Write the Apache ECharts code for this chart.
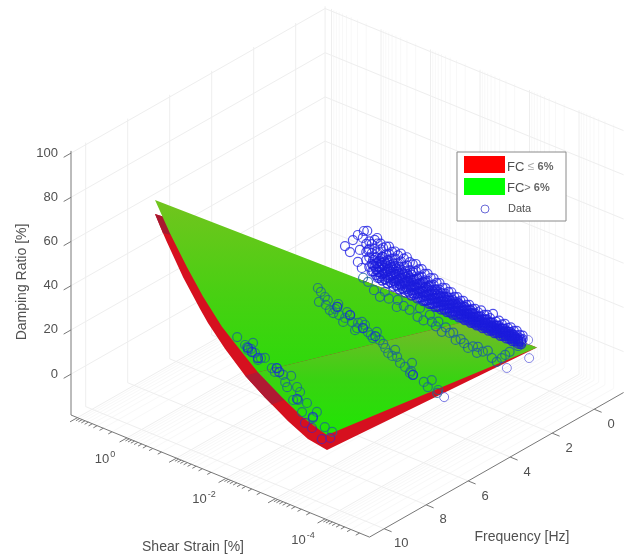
<!DOCTYPE html>
<html>
<head>
<meta charset="utf-8">
<style>html,body{margin:0;padding:0;background:#fff}#chart{width:629px;height:557px}</style>
<script src="https://cdn.jsdelivr.net/npm/echarts@6/dist/echarts.min.js"></script>
</head>
<body>
<div id="chart"></div>
<script>
// tick values
const freqTicks = [0, 2, 4, 6, 8, 10];
const dampTicks = [0, 20, 40, 60, 80, 100];
const strainDecades = [1, 0, -1, -2, -3, -4];
const strainLabelled = [0, -2, -4];

// surfaces: log10(strain), damping at 10 Hz and at 0 Hz
const greenStrain = [-0.27, -0.57, -0.92, -1.24, -1.62, -2.03, -2.35, -2.84, -3.24, -3.64, -3.745];
const greenAt10 = [87.8, 75.7, 63.2, 53, 43, 35, 29, 22, 17, 13.9, 13.3];
const greenAt0 = [-3, -2.8, -2.7, -2.5, -2.3, -2.1, -1.9, -1.6, -1.4, -1.2, -1.1];
const redStrain = [-0.27, -0.43, -0.51, -0.84, -1.18, -1.34, -1.68, -2.09, -2.49, -2.63, -2.96, -3.36, -3.745];
const redAt10 = [81.5, 74.4, 71, 58, 46.8, 42, 33.5, 25, 18.8, 16.9, 12.4, 8, 6.5];
const redAt0 = [-3, -2.9, -2.9, -2.7, -2.5, -2.4, -2.3, -2, -1.8, -1.7, -1.5, -1.3, -1.1];

// measurements as [log10(strain), damping]
const data10Hz = [[-1.93,41],[-2.09,38.9],[-2.13,38.3],[-2.15,37.2],[-2.21,38.2],[-2.25,41.3],[-2.29,37.1],[-2.35,34.5],[-2.41,35.9],[-2.49,36.7],[-2.63,33.4],[-2.73,34.3],[-2.69,32.2],[-2.86,32.4],[-3.02,33.4],[-2.94,27.6],[-2.9,29.5],[-3.14,29.5],[-3.2,27.8],[-3.06,22.9],[-3.16,23.8],[-3.34,24.1],[-3.24,19.1],[-3.54,21.9],[-3.46,18.4],[-3.7,16.5],[-3.85,15.7]];
const data10HzOnRed = [[-3.3,14.7],[-3.44,13.7],[-3.81,12.6],[-3.64,10.5]];
const data10HzDense = [[-2.15,38.1],[-2.23,37],[-2.35,35.4],[-2.73,34.3],[-2.78,33],[-3.14,24.1],[-3.46,18.9]];
const data5Hz = [[-1.44,31.7],[-1.46,25.6],[-1.5,30.5],[-1.58,28.9],[-1.6,25.5],[-1.64,28.1],[-1.68,23.9],[-1.75,23.2],[-1.79,25.4],[-1.83,26.7],[-1.85,28.2],[-1.87,23.4],[-1.95,21],[-1.99,23.2],[-2.03,26.2],[-2.09,25.4],[-2.13,22.6],[-2.19,19.5],[-2.23,20.8],[-2.25,23.3],[-2.33,24.5],[-2.35,21.9],[-2.39,23.7],[-2.45,21],[-2.51,20.2],[-2.55,19.2],[-2.63,22.7],[-2.69,19.6],[-2.76,18.5],[-2.8,17],[-2.86,15.3],[-2.94,14.7],[-3,18],[-3.04,15.2],[-3.1,13],[-3.2,12.1],[-3.3,10.3],[-3.32,11.4],[-3.34,15.2],[-3.36,10],[-3.58,8.8],[-3.66,7.2],[-3.74,11.1],[-3.85,6.3],[-3.87,7.8]];
const data5HzDense = [[-1.83,26.7],[-2.09,25.4],[-2.35,21.9],[-2.6,20.5],[-3.36,10]];
const data5HzOff = [[-3.99,5.7]];
const data2Hz = [[-1.08,16.8],[-1.18,15.9],[-1.3,13.2],[-1.42,11.3],[-1.52,14.5],[-1.6,12.1],[-1.76,9.8],[-1.78,13.2],[-1.9,11.6],[-2.02,10.9],[-2.18,9.2],[-2.23,13.7],[-2.3,8.7],[-2.43,12.4],[-2.47,9.6],[-2.55,8.3],[-2.6,10.9],[-2.67,6.9],[-2.75,9.7],[-2.83,7.9],[-2.9,8.7],[-2.95,5.8],[-3.05,7.1],[-3.12,5.9],[-3.2,4.5],[-3.3,6.1],[-3.38,3.9],[-3.4,6.8],[-3.5,5.6],[-3.6,6.9],[-3.68,4.4],[-3.78,3.5],[-3.88,6.1],[-3.95,8.2],[-4.04,10.4],[-4.21,14.6]];
const data1HzOut = [[-3.56,-6.7],[-4.01,1.9],[-3.99,9.9]];
// rows: log10(strain), then the damping values read at that strain
const data1HzRows = [
  [-0.29,18.5],[-0.39,16.7],[-0.45,22.7],[-0.55,25.9,13.7],[-0.59,19.5],[-0.63,11.7],[-0.65,25.5],[-0.67,28.8],
  [-0.72,23.4,19.8,16.2],[-0.74,29.5],[-0.76,21],[-0.78,25.1,21.7,17.9,13.6],[-0.83,24.3,20.2,15.4,11.9],
  [-0.89,26.8,22.9,18.6,14.7],[-0.94,28.1],[-0.95,25.7,21.3,17.2,12.8,10.1],[-1.01,26.2,23.6,19.4,15.8,11.4],
  [-1.06,24.8,20.7,16.9,13.3],[-1.12,25.9,22.4,18.2,14.4,10.8],[-1.18,26.4,23.1,19.9,16.3,12.2],
  [-1.24,24.6,21.5,17.6,13.9,10.3],[-1.3,25.3,22.2,18.8,15.2,11.7],[-1.36,24.1,20.6,16.8,13.1,9.9],
  [-1.42,25.4,21.9,18.3,14.6,11.2],[-1.48,23.7,20.1,16.7,12.9,9.7],[-1.54,24.9,21.2,17.4,14.1,10.6],
  [-1.6,23.2,19.6,16.1,12.4,9.2],[-1.66,22.8,19.3,15.7,12.7,9.8],[-1.72,23.5,20.4,16.6,13.4,10.1],
  [-1.78,21.6,18.4,15.1,11.8,8.9],[-1.84,22.3,18.9,15.9,12.3,9.4],[-1.9,20.7,17.7,14.3,11.1,8.6],
  [-1.96,21.2,18.1,14.9,11.9,9.1],[-2.02,19.9,16.9,13.8,10.7,8.2],[-2.08,20.3,17.3,14.2,11.3,8.7],
  [-2.14,18.8,15.9,13.1,10.2,8],[-2.2,19.2,16.3,13.5,10.9,8.4],[-2.26,17.7,15.2,12.4,9.8],
  [-2.32,18.1,15.6,12.9,10.4,8.1],[-2.38,16.9,14.3,11.8,9.4],[-2.44,17.3,14.8,12.2,9.9,7.9],
  [-2.5,15.8,13.4,11.2,9.1],[-2.56,16.2,13.9,11.6,9.5,7.8],[-2.62,15.1,12.9,10.7,8.8],
  [-2.68,15.6,13.2,11.1,9.2,7.6],[-2.74,14.3,12.2,10.3,8.5],[-2.8,14.9,12.7,10.6,8.9,7.5],
  [-2.86,13.6,11.7,9.8,8.2],[-2.92,14.2,12.1,10.2,8.6,7.4],[-2.98,13.2,11.3,9.5,8.1],
  [-3.04,14.6,11.9,9.9,8.3],[-3.1,13.1,11.1,9.3,7.9],[-3.16,13.7,11.6,9.7,8],[-3.22,12.7,10.8,9.1,7.7],
  [-3.28,15.2,11.2,9.4,7.9],[-3.34,12.3,10.4,8.9,7.5],[-3.4,13.3,10.9,9.2,7.8],[-3.46,12.1,10.2,8.7],
  [-3.52,12.9,10.6,8.9,7.6],[-3.58,11.6,9.9,8.4],[-3.64,12.4,10.3,8.6,7.3],[-3.7,11.4,9.6,8.2],
  [-3.76,11.9,9.9,8.3],[-3.82,10.7,9.2,7.9],[-3.88,10.9,9.3]
];
// the dense core of the same band
const data1HzCore = [
  [-0.86,12.3,15.1,17.6],[-0.92,11.1,13.8,16.4,19.2],[-0.98,10.4,13.1,15.2,18.1],[-1.04,9.8,12.6,14.7,17.7,20.6],
  [-1.09,10.9,13.4,15.9,18.8],[-1.15,9.4,12.1,14.9,17.2,20.1],[-1.21,10.6,13.2,15.6,18.4],[-1.27,9.1,11.8,14.2,16.9,19.6],
  [-1.33,10.2,12.7,15.3,17.9],[-1.39,8.9,11.4,13.9,16.2,19.1],[-1.45,9.9,12.3,14.8,17.1],[-1.51,8.6,11.1,13.4,15.7,18.3],
  [-1.57,9.6,11.9,14.3,16.8],[-1.63,8.4,10.8,13.1,15.4,17.9],[-1.69,9.3,11.5,13.8,16.2],[-1.75,8.2,10.4,12.8,14.9,17.2],
  [-1.81,9.1,11.2,13.3,15.6],[-1.87,8.1,10.1,12.4,14.6,16.7],[-1.93,8.8,10.9,12.9,15.2],[-1.99,7.9,9.8,12,14.1,16.1],
  [-2.05,8.5,10.4,12.6,14.7],[-2.11,7.7,9.6,11.6,13.6,15.5],[-2.17,8.3,10.1,12.1,14.3],[-2.23,7.6,9.4,11.2,13.2,15],
  [-2.29,8.2,9.9,11.7,13.7],[-2.35,7.5,9.2,10.9,12.8,14.4],[-2.41,8,9.7,11.4,13.3],[-2.47,7.4,9,10.6,12.4,14],
  [-2.53,7.9,9.4,11,12.8],[-2.59,7.3,8.8,10.3,12,13.6],[-2.65,7.8,9.3,10.8,12.4],[-2.71,7.2,8.7,10.1,11.7,13.1],
  [-2.77,7.7,9.1,10.5,12],[-2.83,7.1,8.5,9.9,11.4,12.7],[-2.89,7.6,8.9,10.3,11.6],[-2.95,7,8.4,9.7,11],
  [-3.01,7.5,8.8,10,11.4],[-3.07,6.9,8.2,9.5,10.8],[-3.13,7.4,8.6,9.9,11.2],[-3.19,6.8,8.1,9.3,10.6],
  [-3.25,7.3,8.5,9.6,11],[-3.31,6.8,8,9.2,10.4],[-3.37,7.2,8.4,9.5,10.7],[-3.43,6.7,7.9,9,10.1],
  [-3.49,7.1,8.2,9.3,10.4],[-3.55,6.6,7.7,8.8,9.9],[-3.61,7,8.1,9.1,10.1],[-3.67,6.5,7.6,8.6,9.6],
  [-3.73,6.9,7.9,8.9],[-3.79,6.4,7.4,8.4],[-3.85,6.8,7.7,8.6]
];

// box limits and the fixed view of the 3d axes
const sMax = 1.13, sMin = -4.9, fMin = -1.4, fMax = 10.7, zMin = -18.5, zMax = 101;
function project(s, f, z) {
    const t = sMax - s, u = fMax - f;
    return [71 + 49.5 * t + 21 * u, 415 + 20.25 * t - 11.95 * u - 2.21 * (z - zMin)];
}
function seg(a, b) { return a.concat(b); }

let minorLogs = [];
for (let d = -5; d <= 1; d++) {
    for (let m = 2; m <= 9; m++) {
        const v = d + Math.log10(m);
        if (v > sMin && v < sMax) minorLogs.push(v);
    }
}

// box grid
const minorGrid = [], majorGrid = [];
minorLogs.forEach(s => {
    minorGrid.push(seg(project(s, fMin, zMin), project(s, fMin, zMax)));
    minorGrid.push(seg(project(s, fMin, zMin), project(s, fMax, zMin)));
});
strainDecades.forEach(s => {
    majorGrid.push(seg(project(s, fMin, zMin), project(s, fMin, zMax)));
    majorGrid.push(seg(project(s, fMin, zMin), project(s, fMax, zMin)));
});
freqTicks.forEach(f => {
    majorGrid.push(seg(project(sMax, f, zMin), project(sMax, f, zMax)));
    majorGrid.push(seg(project(sMax, f, zMin), project(sMin, f, zMin)));
});
dampTicks.forEach(z => {
    majorGrid.push(seg(project(sMax, fMax, z), project(sMax, fMin, z)));
    majorGrid.push(seg(project(sMax, fMin, z), project(sMin, fMin, z)));
});
majorGrid.push(seg(project(sMax, fMin, zMin), project(sMax, fMin, zMax)));

// axis lines and ticks
const axisLines = [
    seg(project(sMax, fMax, zMin), project(sMax, fMax, zMax)),
    seg(project(sMax, fMax, zMin), project(sMin, fMax, zMin)),
    seg(project(sMin, fMax, zMin), project(sMin, fMin, zMin))
];
dampTicks.forEach(z => axisLines.push(seg(project(sMax, fMax, z), project(sMax, fMax + 0.35, z))));
freqTicks.forEach(f => axisLines.push(seg(project(sMin, f, zMin), project(sMin - 0.15, f, zMin))));
strainDecades.forEach(s => axisLines.push(seg(project(s, fMax, zMin), project(s, fMax + 0.35, zMin))));
minorLogs.forEach(s => axisLines.push(seg(project(s, fMax, zMin), project(s, fMax + 0.18, zMin))));

// tick labels
const tickTexts = [];
dampTicks.forEach(z => {
    const p = project(sMax, fMax, z);
    tickTexts.push({ x: p[0] - 13, y: p[1], text: String(z), align: 'right' });
});
freqTicks.forEach(f => {
    const p = project(sMin, f, zMin);
    tickTexts.push({ x: p[0] + 17, y: p[1] + 15, text: String(f), align: 'center' });
});
strainLabelled.forEach(s => {
    const p = project(s, fMax, zMin);
    tickTexts.push({ x: p[0] - 22, y: p[1] + 20, text: '{b|10}{e|' + s + '}', align: 'center' });
});

// surface polygons
function band(strain, at10, at0, from, to) {
    const near = [], far = [];
    for (let i = from; i <= to; i++) {
        near.push(project(strain[i], 10, at10[i]));
        far.unshift(project(strain[i], 0, at0[i]));
    }
    return near.concat(far);
}
const LG = echarts.graphic.LinearGradient;
const polys = [
    { pts: band(redStrain, redAt10, redAt0, 0, 12), fill: '#d6101f' },
    { pts: band(redStrain, redAt10, redAt0, 0, 1), fill: '#a8182f' },
    { pts: band(redStrain, redAt10, redAt0, 7, 9), fill: '#b01a33' },
    { pts: band(greenStrain, greenAt10, greenAt0, 0, 6),
      fill: new LG(0, 0, 0, 1, [{ offset: 0, color: '#72c41e' }, { offset: 0.55, color: '#48d012' }, { offset: 1, color: '#2cda0a' }]) },
    { pts: band(greenStrain, greenAt10, greenAt0, 6, 10),
      fill: new LG(0, 0, 0, 1, [{ offset: 0, color: '#78b82a' }, { offset: 0.5, color: '#3ad212' }, { offset: 1, color: '#1ee602' }]) }
];

function points(list, f) { return list.map(d => project(d[0], f, d[1])); }
function flatten(rows) {
    const out = [];
    rows.forEach(r => r.slice(1).forEach(z => out.push([r[0], z])));
    return out;
}

function lineSeries(list, color, width) {
    return {
        type: 'custom', silent: true, clip: false, animation: false,
        encode: { x: [0, 2], y: [1, 3] }, data: list,
        renderItem(params, api) {
            const a = api.coord([api.value(0), api.value(1)]);
            const b = api.coord([api.value(2), api.value(3)]);
            return { type: 'line', shape: { x1: a[0], y1: a[1], x2: b[0], y2: b[1] }, style: { stroke: color, lineWidth: width } };
        }
    };
}
function circles(list, color, width) {
    return {
        type: 'scatter', silent: true, animation: false, symbol: 'circle', symbolSize: 9, data: list,
        itemStyle: { color: 'rgba(0,0,0,0)', borderColor: color, borderWidth: width }
    };
}

const textColor = '#505050';
const fontName = '"Liberation Sans", Arial, sans-serif';

const chart = echarts.init(document.getElementById('chart'), null, { renderer: 'canvas' });
chart.setOption({
    animation: false,
    backgroundColor: '#ffffff',
    grid: { left: 0, right: 0, top: 0, bottom: 0 },
    xAxis: { type: 'value', min: 0, max: 629, show: false },
    yAxis: { type: 'value', min: 0, max: 557, inverse: true, show: false },
    series: [
        lineSeries(minorGrid, '#f8f8f8', 1),
        lineSeries(majorGrid, '#eeeeee', 1),
        lineSeries(axisLines, '#787878', 1),
        {
            type: 'custom', silent: true, clip: false, animation: false,
            data: polys.map(() => [0, 0]),
            renderItem(params, api) {
                const p = polys[params.dataIndex];
                return { type: 'polygon', shape: { points: p.pts.map(q => api.coord(q)) }, style: { fill: p.fill } };
            }
        },
        circles(points(data10Hz, 10), '#1c6a8e', 1.2),
        circles(points(data10HzOnRed, 10), '#5a1fa8', 1.2),
        circles(points(data10HzDense, 10), '#1a30d0', 1.3),
        circles(points(data5Hz, 5), '#1c6a8e', 1.2),
        circles(points(data5HzDense, 5), '#1a30d0', 1.3),
        circles(points(data5HzOff, 5), '#5a5ae0', 1),
        circles(points(data2Hz, 2), '#1c5fa0', 1.2),
        circles(points(flatten(data1HzRows), 1), '#2424e4', 1.2),
        circles(points(flatten(data1HzCore), 1), '#1c1cdc', 1.4),
        circles(points(data1HzOut, 1), '#6a6ae0', 1),
        {
            type: 'custom', silent: true, clip: false, animation: false,
            data: tickTexts.map(t => [t.x, t.y]),
            renderItem(params, api) {
                const t = tickTexts[params.dataIndex];
                const c = api.coord([t.x, t.y]);
                return {
                    type: 'text', x: c[0], y: c[1],
                    style: {
                        text: t.text, align: t.align, verticalAlign: 'middle', fill: textColor,
                        font: '13px ' + fontName,
                        rich: {
                            b: { fontSize: 13, fontFamily: fontName, fill: textColor, lineHeight: 16, verticalAlign: 'bottom' },
                            e: { fontSize: 9, fontFamily: fontName, fill: textColor, lineHeight: 16, verticalAlign: 'top', padding: [0, 0, 6, 1] }
                        }
                    }
                };
            }
        }
    ],
    graphic: [
        { type: 'text', x: 193, y: 547, silent: true, style: { text: 'Shear Strain [%]', font: '14px ' + fontName, fill: textColor, align: 'center', verticalAlign: 'middle' } },
        { type: 'text', x: 522, y: 537, silent: true, style: { text: 'Frequency [Hz]', font: '14px ' + fontName, fill: textColor, align: 'center', verticalAlign: 'middle' } },
        { type: 'text', x: 22, y: 282, rotation: Math.PI / 2, silent: true, style: { text: 'Damping Ratio [%]', font: '14px ' + fontName, fill: textColor, align: 'center', verticalAlign: 'middle' } },
        { type: 'rect', shape: { x: 457, y: 152, width: 109, height: 69 }, silent: true, z: 10, style: { fill: '#fff', stroke: '#8a8a8a', lineWidth: 1 } },
        { type: 'rect', shape: { x: 464, y: 156, width: 41, height: 17 }, silent: true, z: 11, style: { fill: '#ff0000' } },
        { type: 'rect', shape: { x: 464, y: 178, width: 41, height: 17 }, silent: true, z: 11, style: { fill: '#00ff00' } },
        { type: 'circle', shape: { cx: 485, cy: 209, r: 4 }, silent: true, z: 11, style: { fill: 'none', stroke: '#6a6ad8', lineWidth: 1 } },
        { type: 'text', x: 507, y: 167, silent: true, z: 11, style: { text: '{a|FC}{l| \u2264 }{n|6%}', verticalAlign: 'middle', rich: { a: { fontSize: 13, fontFamily: fontName, fill: textColor }, l: { fontSize: 12, fontFamily: fontName, fill: '#a8a8a8' }, n: { fontSize: 11, fontFamily: fontName, fontWeight: 'bold', fill: '#666666' } } } },
        { type: 'text', x: 507, y: 188, silent: true, z: 11, style: { text: '{a|FC}{l|> }{n|6%}', verticalAlign: 'middle', rich: { a: { fontSize: 13, fontFamily: fontName, fill: textColor }, l: { fontSize: 11, fontFamily: fontName, fill: '#707070' }, n: { fontSize: 11, fontFamily: fontName, fontWeight: 'bold', fill: '#666666' } } } },
        { type: 'text', x: 508, y: 209, silent: true, z: 11, style: { text: 'Data', font: '11px ' + fontName, fill: textColor, verticalAlign: 'middle' } }
    ]
});
</script>
</body>
</html>
